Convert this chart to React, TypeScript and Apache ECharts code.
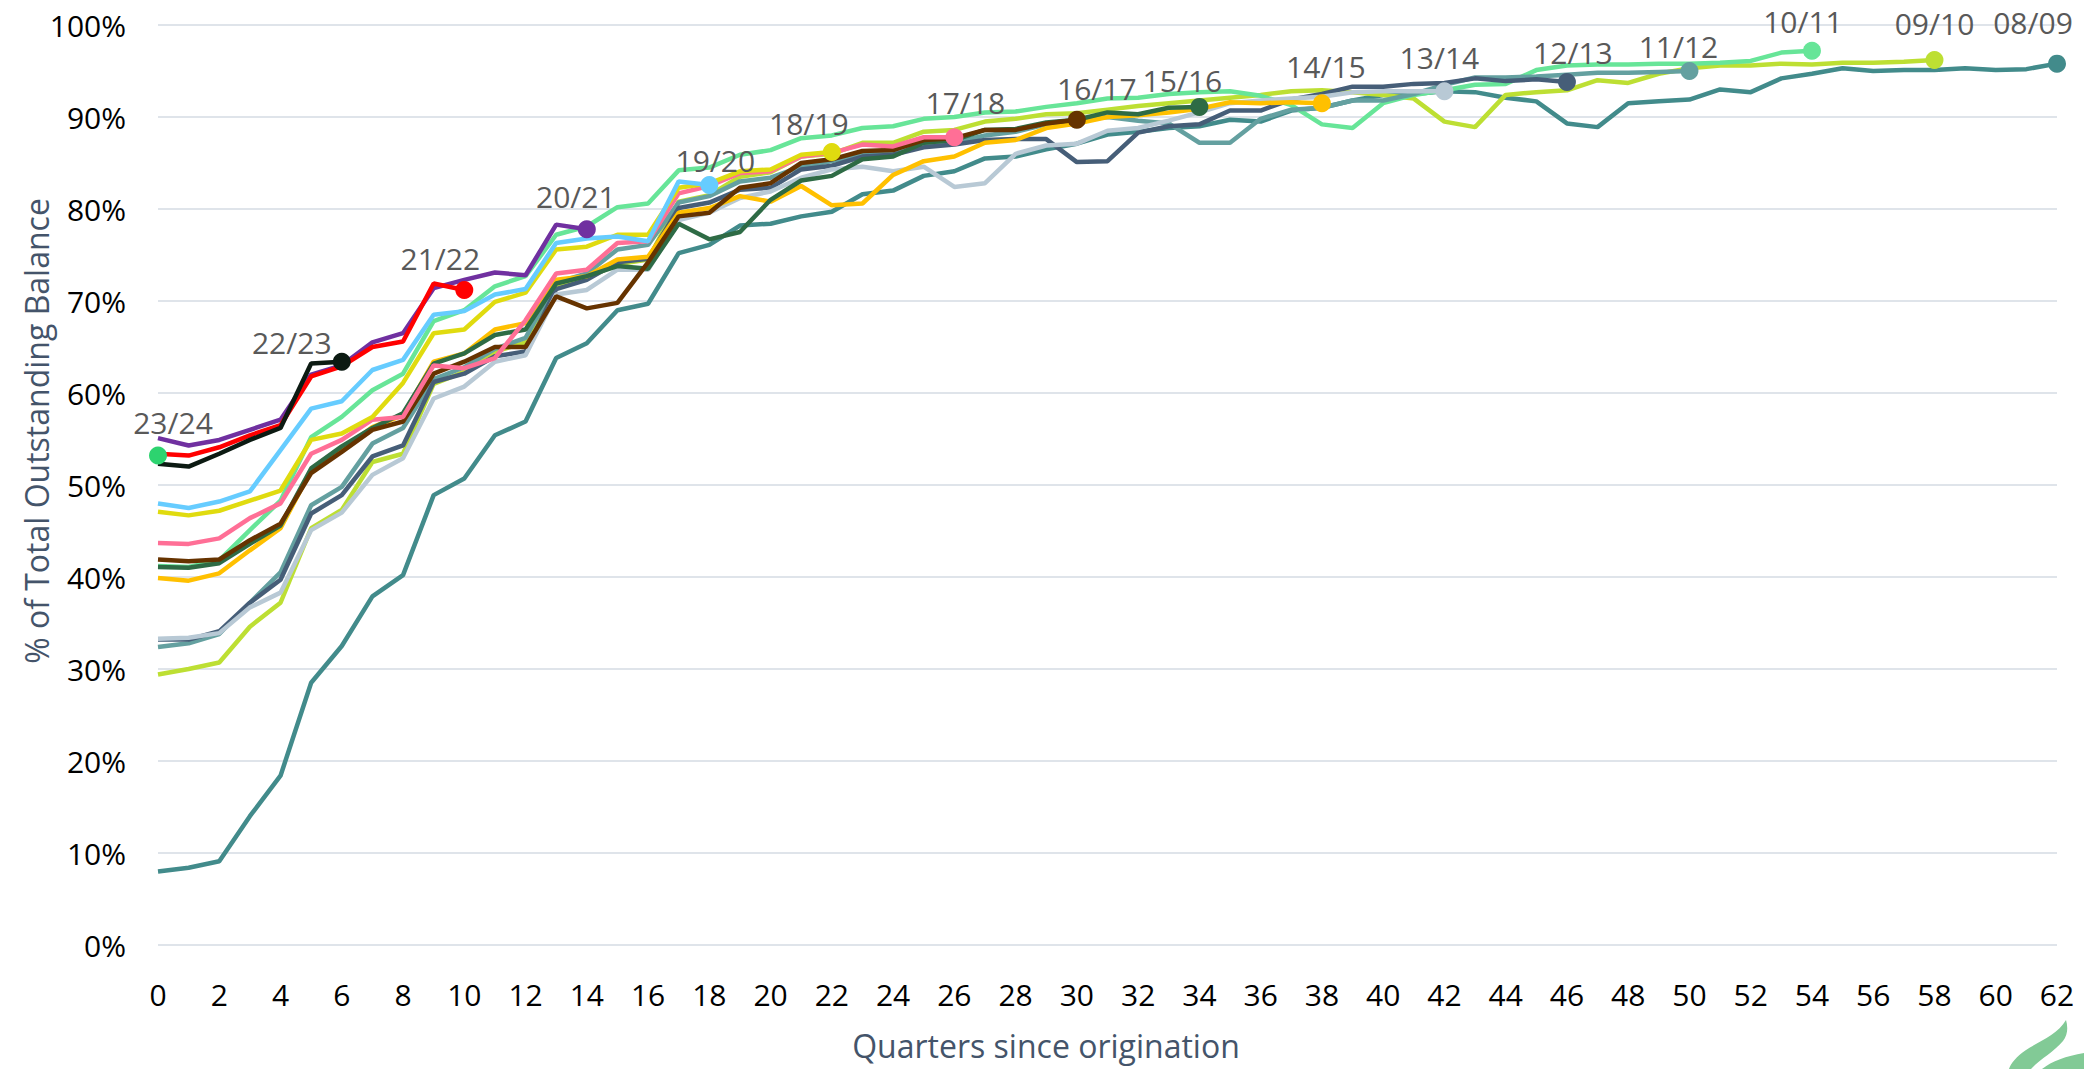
import React, { useEffect, useRef } from "react";
import * as echarts from "echarts";

// Vintages (oldest first so newer lines are drawn on top)
const VINTAGES = ["08/09", "09/10", "10/11", "11/12", "12/13", "13/14", "14/15", "15/16", "16/17", "17/18", "18/19", "19/20", "20/21", "21/22", "22/23", "23/24"];

const COLORS = ["#428b8b", "#bddf33", "#67e598", "#64a0a0", "#465e78", "#b8c9d5", "#ffc000", "#2e6b45", "#663300", "#ff6f96", "#e0db0f", "#66ccff", "#7030a0", "#ff0000", "#0c1a12", "#2dd36f"];

// % of total outstanding balance, by quarter since origination (index = quarter)
const V0809 = [8.0, 8.4, 9.1, 14.0, 18.4, 28.5, 32.5, 37.9, 40.2, 48.9, 50.7, 55.4, 56.9, 63.8, 65.4, 69.0, 69.7, 75.2, 76.1, 78.2, 78.4, 79.2, 79.7, 81.6, 82.0, 83.6, 84.1, 85.5, 85.7, 86.5, 87.1, 88.1, 88.4, 88.8, 89.0, 89.7, 89.5, 90.7, 91.0, 91.8, 92.4, 92.5, 92.8, 92.7, 92.1, 91.7, 89.3, 88.9, 91.5, 91.7, 91.9, 93.0, 92.7, 94.2, 94.7, 95.3, 95.0, 95.1, 95.1, 95.3, 95.1, 95.2, 95.8];
const V0910 = [29.4, 30.0, 30.7, 34.6, 37.2, 45.3, 47.3, 52.5, 53.4, 61.0, 62.3, 64.5, 65.5, 71.5, 72.5, 74.0, 74.5, 80.8, 81.5, 83.5, 84.0, 85.7, 86.0, 87.2, 87.2, 88.4, 88.6, 89.5, 89.8, 90.3, 90.4, 90.8, 91.2, 91.5, 91.8, 92.1, 92.4, 92.8, 92.9, 92.7, 92.4, 92.0, 89.5, 88.9, 92.4, 92.7, 92.9, 94.0, 93.7, 94.7, 95.3, 95.6, 95.6, 95.8, 95.7, 95.9, 95.9, 96.0, 96.2];
const V1011 = [41.2, 41.1, 41.8, 45.1, 48.3, 55.2, 57.4, 60.3, 62.1, 67.8, 69.0, 71.6, 72.7, 77.2, 78.1, 80.2, 80.6, 84.2, 84.5, 85.9, 86.4, 87.7, 88.0, 88.8, 89.0, 89.8, 90.0, 90.5, 90.6, 91.1, 91.5, 92.0, 92.1, 92.5, 92.7, 92.8, 92.3, 91.3, 89.2, 88.8, 91.5, 92.4, 92.9, 93.5, 93.6, 95.1, 95.6, 95.7, 95.7, 95.8, 95.8, 95.9, 96.1, 97.0, 97.2];
const V1112 = [32.4, 32.8, 33.8, 37.2, 40.5, 47.8, 49.8, 54.5, 56.2, 61.5, 62.8, 64.8, 66.0, 72.0, 73.0, 75.6, 76.1, 80.7, 81.4, 83.0, 83.4, 84.6, 85.2, 85.9, 86.3, 87.2, 87.2, 88.0, 88.4, 89.2, 89.6, 90.0, 89.6, 89.3, 87.2, 87.2, 89.8, 90.8, 91.0, 91.8, 91.8, 92.5, 93.5, 94.3, 94.3, 94.4, 94.6, 94.8, 94.8, 94.9, 95.0];
const V1213 = [33.2, 33.2, 34.1, 37.2, 39.7, 46.9, 48.9, 53.1, 54.3, 61.2, 62.1, 64.0, 64.5, 71.3, 72.3, 74.2, 74.6, 80.1, 80.7, 82.1, 82.3, 84.3, 84.7, 85.7, 85.9, 86.7, 87.0, 87.5, 87.6, 87.6, 85.1, 85.2, 88.3, 89.0, 89.2, 90.7, 90.7, 91.9, 92.5, 93.3, 93.3, 93.6, 93.7, 94.2, 93.9, 94.1, 93.8];
const V1314 = [33.3, 33.4, 33.9, 36.7, 38.3, 45.1, 47.0, 51.1, 52.9, 59.4, 60.7, 63.4, 64.1, 70.7, 71.2, 73.4, 73.4, 78.8, 79.6, 81.2, 81.9, 83.4, 84.3, 84.6, 84.1, 84.6, 82.4, 82.8, 86.0, 86.9, 87.1, 88.5, 88.8, 89.6, 90.5, 91.5, 91.8, 92.0, 92.2, 92.7, 92.8, 92.8, 92.8];
const V1415 = [39.9, 39.6, 40.4, 42.9, 45.3, 51.6, 53.8, 56.3, 57.6, 63.4, 64.3, 66.9, 67.6, 72.3, 72.7, 74.5, 74.8, 79.6, 80.1, 81.4, 80.8, 82.5, 80.4, 80.6, 83.7, 85.2, 85.7, 87.2, 87.5, 88.8, 89.3, 90.0, 90.2, 90.5, 90.9, 91.6, 91.5, 91.6, 91.5];
const V1516 = [41.1, 41.0, 41.5, 43.6, 45.6, 51.8, 54.2, 56.2, 57.8, 63.2, 64.3, 66.3, 66.9, 71.9, 72.7, 73.8, 73.5, 78.4, 76.7, 77.5, 81.0, 83.1, 83.6, 85.4, 85.7, 87.2, 87.5, 88.6, 88.7, 89.4, 89.7, 90.5, 90.3, 91.0, 91.1];
const V1617 = [41.9, 41.7, 41.9, 44.0, 45.8, 51.3, 53.6, 56.0, 56.9, 62.1, 63.4, 65.0, 65.0, 70.5, 69.2, 69.8, 74.2, 79.2, 79.6, 82.3, 82.8, 85.0, 85.4, 86.3, 86.4, 87.5, 87.7, 88.6, 88.6, 89.3, 89.7];
const V1718 = [43.7, 43.6, 44.2, 46.4, 48.0, 53.4, 54.9, 57.1, 57.4, 63.0, 62.7, 63.8, 67.9, 73.0, 73.4, 76.3, 76.5, 81.7, 82.5, 83.9, 84.1, 85.7, 86.1, 87.0, 86.8, 87.8, 87.8];
const V1819 = [47.1, 46.7, 47.2, 48.3, 49.4, 54.9, 55.6, 57.4, 61.1, 66.5, 66.9, 69.9, 70.9, 75.6, 75.9, 77.2, 77.2, 82.3, 82.8, 84.1, 84.3, 85.9, 86.2];
const V1920 = [48.0, 47.5, 48.2, 49.3, 53.8, 58.3, 59.1, 62.5, 63.6, 68.5, 68.9, 70.7, 71.3, 76.3, 76.8, 77.0, 76.5, 83.0, 82.6];
const V2021 = [55.1, 54.3, 54.9, 56.0, 57.1, 62.0, 63.0, 65.5, 66.5, 71.4, 72.3, 73.1, 72.8, 78.3, 77.8];
const V2122 = [53.4, 53.2, 54.1, 55.4, 56.5, 61.8, 62.9, 65.0, 65.6, 71.9, 71.2];
const V2223 = [52.3, 52.0, 53.4, 54.9, 56.2, 63.2, 63.4];
const V2324 = [53.2];

const VALUES = [V0809, V0910, V1011, V1112, V1213, V1314, V1415, V1516, V1617, V1718, V1819, V1920, V2021, V2122, V2223, V2324];

// label placement relative to the end marker (px)
const LABEL_OFFSETS = [[-24, -41], [0, -36], [-9, -29], [-11, -25], [6, -30], [-5, -34], [4, -37], [-17, -26], [20, -31], [11, -35], [-23, -28], [6, -25], [-11, -33], [-24, -31], [-50, -19], [15, -33]];

const FONT = "'Open Sans', 'Noto Sans', sans-serif";

const LEAF_A = "M2066 1020 C2058 1034 2040 1041 2026 1050 C2016 1057 2011 1063 2009 1069 L2031 1069 C2040 1059 2054 1052 2063 1041 C2068 1034 2068 1027 2066 1020 Z";
const LEAF_B = "M2042 1069 C2052 1061 2066 1056 2084 1053 L2084 1069 Z";

let registered = false;
function registerShapes() {
  if (registered) return;
  registered = true;
  echarts.graphic.registerShape("leafA", echarts.graphic.extendPath(LEAF_A, {}));
  echarts.graphic.registerShape("leafB", echarts.graphic.extendPath(LEAF_B, {}));
}

export default function App() {
  const ref = useRef<HTMLDivElement>(null);

  useEffect(() => {
    document.body.style.margin = "0";
    registerShapes();
    const chart = echarts.init(ref.current!, undefined, { renderer: "svg" });

    const series: any[] = VINTAGES.map((name, i) => {
      const vals = VALUES[i];
      const last = vals.length - 1;
      const color = COLORS[i];
      return {
        name,
        type: "line",
        symbol: "none",
        showSymbol: true,
        silent: true,
        emphasis: { disabled: true },
        lineStyle: { color, width: 4.5 },
        itemStyle: { color },
        data: vals.map((v, q) =>
          q === last
            ? {
                value: [q, v],
                symbol: "circle",
                symbolSize: 18,
                label: {
                  show: true,
                  position: "inside",
                  offset: LABEL_OFFSETS[i],
                  formatter: name,
                  fontSize: 30,
                  fontFamily: FONT,
                  color: "#595959",
                  textBorderWidth: 0,
                },
              }
            : [q, v]
        ),
      };
    });

    chart.setOption({
      animation: false,
      backgroundColor: "#ffffff",
      grid: { left: 158, right: 27, top: 25, bottom: 124, containLabel: false },
      xAxis: {
        type: "value",
        min: 0,
        max: 62,
        interval: 2,
        axisLine: { show: false },
        axisTick: { show: false },
        splitLine: { show: false },
        axisLabel: { fontSize: 30, fontFamily: FONT, color: "#000000", margin: 34 },
      },
      yAxis: {
        type: "value",
        min: 0,
        max: 100,
        interval: 10,
        axisLine: { show: false },
        axisTick: { show: false },
        splitLine: { show: true, lineStyle: { color: "#dfe4ea", width: 2 } },
        axisLabel: { fontSize: 30, fontFamily: FONT, color: "#000000", margin: 32, formatter: "{value}%" },
      },
      graphic: [
        {
          type: "text",
          x: 36,
          y: 431,
          rotation: Math.PI / 2,
          style: {
            text: "% of Total Outstanding Balance",
            fontSize: 32,
            fontFamily: FONT,
            fill: "#44546a",
            align: "center",
            verticalAlign: "middle",
          },
        },
        {
          type: "text",
          x: 1046,
          y: 1045,
          style: {
            text: "Quarters since origination",
            fontSize: 32,
            fontFamily: FONT,
            fill: "#44546a",
            align: "center",
            verticalAlign: "middle",
          },
        },
        { type: "leafA", x: 0, y: 0, scaleX: 1, scaleY: 1, style: { fill: "#82ca96" } },
        { type: "leafB", x: 0, y: 0, scaleX: 1, scaleY: 1, style: { fill: "#82ca96" } },
      ],
      series,
    });

    return () => chart.dispose();
  }, []);

  return <div ref={ref} style={{ position: "fixed", left: 0, top: 0, width: 2084, height: 1069 }} />;
}
